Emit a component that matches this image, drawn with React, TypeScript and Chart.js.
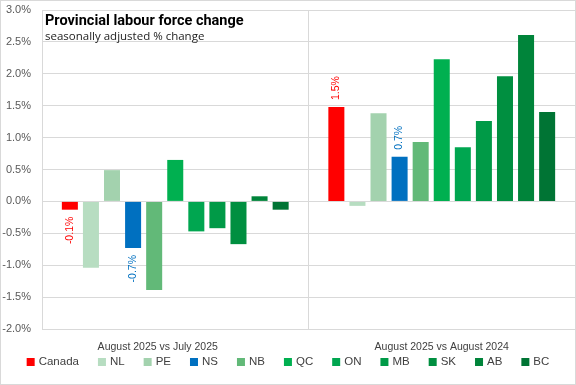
import React, { useEffect, useRef } from "react";
import { Chart, registerables } from "chart.js";

Chart.register(...registerables);

const categories = ["August 2025 vs July 2025            ", "August 2025 vs August 2024"];
const seriesNames = ["Canada", "NL", "PE", "NS", "NB", "QC", "ON", "MB", "SK", "AB", "BC"];
const canada = [-0.13, 1.48];
const nl = [-1.04, -0.07];
const pe = [0.49, 1.38];
const ns = [-0.73, 0.7];
const nb = [-1.39, 0.93];
const qc = [0.65, 2.23];
const on = [-0.47, 0.85];
const mb = [-0.42, 1.26];
const sk = [-0.67, 1.96];
const ab = [0.08, 2.61];
const bc = [-0.13, 1.4];
const canadaLabels = ["-0.1%", "1.5%"];
const nsLabels = ["-0.7%", "0.7%"];
const yTicks = [-2, -1.5, -1, -0.5, 0, 0.5, 1, 1.5, 2, 2.5, 3];
const titleText = "Provincial labour force change";
const subtitleText = "seasonally adjusted % change";

const seriesValues = [canada, nl, pe, ns, nb, qc, on, mb, sk, ab, bc];
const colors = ["#FF0000", "#B7DDC1", "#A3D2AE", "#0070C0", "#62B978", "#00B050", "#00A650", "#009A47", "#008F40", "#00843A", "#007434"];

const titlePlugin = {
  id: "insideTitle",
  afterDraw(chart: any) {
    const { ctx, chartArea } = chart;
    ctx.save();
    ctx.fillStyle = "#000000";
    ctx.textBaseline = "alphabetic";
    ctx.textAlign = "left";
    ctx.font = "bold 14.5px Roboto, sans-serif";
    ctx.fillText(titleText, chartArea.left + 3, chartArea.top + 15);
    ctx.font = "11.5px 'Open Sans', sans-serif";
    ctx.fillStyle = "#222222";
    ctx.fillText(subtitleText, chartArea.left + 3, chartArea.top + 30);
    ctx.restore();
  },
};

const legendPlugin = {
  id: "bottomLegend",
  afterDraw(chart: any) {
    const { ctx, width } = chart;
    const box = 8;
    const gap = 4;
    const spacing = 19;
    ctx.save();
    ctx.font = "11.5px 'Liberation Sans', sans-serif";
    ctx.textBaseline = "middle";
    ctx.textAlign = "left";
    const items = chart.data.datasets.map((d: any) => ({
      label: d.label,
      color: d.backgroundColor,
      w: ctx.measureText(d.label).width,
    }));
    const total = items.reduce((s: number, it: any) => s + box + gap + it.w, 0) + spacing * (items.length - 1);
    let x = (width - total) / 2;
    const y = 361;
    for (const it of items) {
      ctx.fillStyle = it.color;
      ctx.fillRect(x, y - box / 2, box, box);
      ctx.fillStyle = "#404040";
      ctx.fillText(it.label, x + box + gap, y);
      x += box + gap + it.w + spacing;
    }
    ctx.restore();
  },
};

const labelPlugin = {
  id: "barLabels",
  afterDatasetsDraw(chart: any) {
    const { ctx } = chart;
    const sets: [number, string[]][] = [[0, canadaLabels], [3, nsLabels]];
    ctx.save();
    ctx.font = "10.5px 'Liberation Sans', sans-serif";
    ctx.textBaseline = "middle";
    for (const [di, labels] of sets) {
      const meta = chart.getDatasetMeta(di);
      ctx.fillStyle = colors[di];
      meta.data.forEach((bar: any, i: number) => {
        const v = seriesValues[di][i];
        ctx.save();
        ctx.translate(bar.x, bar.y + (v < 0 ? 7 : -7));
        ctx.rotate(-Math.PI / 2);
        ctx.textAlign = v < 0 ? "right" : "left";
        ctx.fillText(labels[i], 0, 0);
        ctx.restore();
      });
    }
    ctx.restore();
  },
};

export default function App() {
  const ref = useRef<HTMLCanvasElement | null>(null);
  useEffect(() => {
    document.body.style.margin = "0";
    const chart = new Chart(ref.current!, {
      type: "bar",
      data: {
        labels: categories,
        datasets: seriesNames.map((n, i) => ({
          label: n,
          data: seriesValues[i],
          backgroundColor: colors[i],
          borderWidth: 0,
          categoryPercentage: 0.87,
          barPercentage: 0.76,
        })),
      },
      options: {
        animation: false,
        responsive: false,
        maintainAspectRatio: false,
        layout: { padding: { top: 9, right: 0, left: 0, bottom: 0 } },
        plugins: {
          legend: { display: false },
          tooltip: { enabled: false },
        },
        scales: {
          x: {
            grid: { display: true, offset: true, drawTicks: false, color: "#D9D9D9" },
            border: { display: false },
            afterFit(scale: any) {
              scale.height = 55;
              scale.paddingLeft = 0;
              scale.paddingRight = 0;
            },
            ticks: { color: "#404040", padding: 12, maxRotation: 0, font: { size: 10.5, family: "'Liberation Sans', sans-serif" } },
          },
          y: {
            min: -2,
            max: 3,
            afterBuildTicks(scale: any) {
              scale.ticks = yTicks.map((v) => ({ value: v }));
            },
            afterFit(scale: any) {
              scale.width = 41;
              scale.paddingTop = 0;
              scale.paddingBottom = 0;
            },
            grid: { color: "#D9D9D9", drawTicks: false },
            border: { display: true, color: "#D9D9D9" },
            ticks: {
              color: "#595959",
              padding: 11,
              font: { size: 11, family: "'Liberation Sans', sans-serif" },
              callback: (v: any) => Number(v).toFixed(1) + "%",
            },
          },
        },
      },
      plugins: [titlePlugin, labelPlugin, legendPlugin],
    });
    return () => chart.destroy();
  }, []);
  return (
    <div style={{ width: 576, height: 385, border: "1px solid #D9D9D9", boxSizing: "border-box" }}>
      <canvas ref={ref} width={574} height={383} style={{ display: "block" }} />
    </div>
  );
}
